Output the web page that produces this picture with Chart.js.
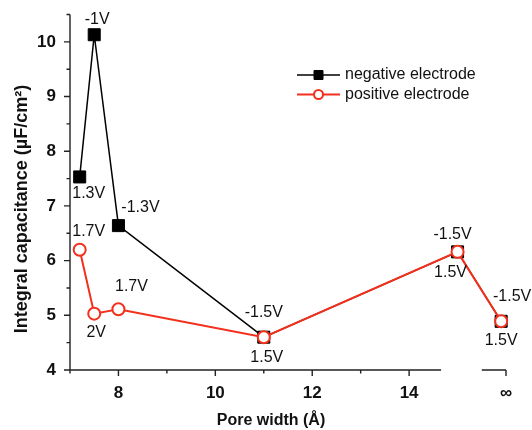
<!DOCTYPE html>
<html>
<head>
<meta charset="utf-8">
<script src="https://cdn.jsdelivr.net/npm/chart.js@4/dist/chart.umd.min.js"></script>
<style>
html,body{margin:0;padding:0;background:#fff;}
#wrap{width:532px;height:430px;}
</style>
</head>
<body>
<div id="wrap"><canvas id="c" width="532" height="430"></canvas></div>
<script>
// ---- data ----
const poreWidth = [7.2, 7.5, 8.0, 11.0, 15.0, 15.9];   // last value = "∞" position on broken axis
const negativeCap = [7.53, 10.13, 6.64, 4.60, 6.16, 4.89];
const positiveCap = [6.20, 5.03, 5.11, 4.60, 6.16, 4.89];
const negativeLabels = ['1.3V', '-1V', '-1.3V', '-1.5V', '-1.5V', '-1.5V'];
const positiveLabels = ['1.7V', '2V', '1.7V', '1.5V', '1.5V', '1.5V'];
const xTickValues = [8, 10, 12, 14, 16];
const xTickLabels = ['8', '10', '12', '14', '\u221E'];
const xMinorTicks = [7, 9, 11, 13];
const yTickValues = [4, 5, 6, 7, 8, 9, 10];
const yMinorTicks = [4.5, 5.5, 6.5, 7.5, 8.5, 9.5, 10.5];
const xBreak = [14.66, 15.5];

// label offsets (px) relative to point centre
const negOffsets = [[9,17],[3,-15],[22,-18],[0,-25],[-5,-17],[11,-25]];
const posOffsets = [[9,-18],[2,19],[13,-23],[3,20],[-7,21],[0,19]];

const FONT = "'Liberation Sans', Arial, sans-serif";
const RED = '#f2301c';

const pts = (ys) => poreWidth.map((x, i) => ({x, y: ys[i]}));

const axesPlugin = {
  id: 'axesDraw',
  beforeDatasetsDraw(chart) {
    const ctx = chart.ctx, xs = chart.scales.x, ys = chart.scales.y, a = chart.chartArea;
    ctx.save();
    ctx.strokeStyle = '#222';
    ctx.lineWidth = 1.4;
    ctx.beginPath();
    ctx.moveTo(a.left, a.top); ctx.lineTo(a.left, a.bottom);
    yTickValues.forEach(v => { const p = ys.getPixelForValue(v); ctx.moveTo(a.left, p); ctx.lineTo(a.left - 6, p); });
    yMinorTicks.forEach(v => { const p = ys.getPixelForValue(v); ctx.moveTo(a.left, p); ctx.lineTo(a.left - 3.5, p); });
    ctx.moveTo(a.left - 0.7, a.bottom); ctx.lineTo(xs.getPixelForValue(xBreak[0]), a.bottom);
    ctx.moveTo(xs.getPixelForValue(xBreak[1]), a.bottom); ctx.lineTo(a.right, a.bottom);
    xTickValues.forEach(v => { const p = xs.getPixelForValue(v); ctx.moveTo(p, a.bottom); ctx.lineTo(p, a.bottom + 6); });
    xMinorTicks.forEach(v => { const p = xs.getPixelForValue(v); ctx.moveTo(p, a.bottom); ctx.lineTo(p, a.bottom + 3.5); });
    ctx.stroke();
    ctx.fillStyle = '#111';
    ctx.font = 'bold 16px ' + FONT;
    ctx.textAlign = 'center'; ctx.textBaseline = 'middle';
    ctx.fillText('Pore width (\u00C5)', 271, 421);
    ctx.save();
    ctx.translate(22, 209);
    ctx.rotate(-Math.PI / 2);
    ctx.font = 'bold 18px ' + FONT;
    ctx.fillText('Integral capacitance (\u00B5F/cm\u00B2)', 0, 0);
    ctx.restore();
    ctx.restore();
  },
  afterDatasetsDraw(chart) {
    const ctx = chart.ctx;
    ctx.save();
    ctx.fillStyle = '#111';
    ctx.font = '16px ' + FONT;
    ctx.textAlign = 'center'; ctx.textBaseline = 'middle';
    const sets = [[chart.getDatasetMeta(1), negativeLabels, negOffsets], [chart.getDatasetMeta(0), positiveLabels, posOffsets]];
    sets.forEach(([meta, labels, offs]) => {
      meta.data.forEach((el, i) => {
        ctx.fillText(labels[i], el.x + offs[i][0], el.y + offs[i][1]);
      });
    });
    const items = [chart.data.datasets[1], chart.data.datasets[0]];
    items.forEach((ds, k) => {
      const y = 75 + k * 19.5;
      ctx.strokeStyle = ds.borderColor; ctx.lineWidth = ds.borderWidth;
      ctx.beginPath(); ctx.moveTo(297, y); ctx.lineTo(340, y); ctx.stroke();
      ctx.fillStyle = ds.pointBackgroundColor; ctx.strokeStyle = ds.pointBorderColor; ctx.lineWidth = ds.pointBorderWidth;
      ctx.beginPath();
      if (ds.pointStyle === 'rect') { ctx.rect(318.5 - 4.5, y - 4.5, 9, 9); } else { ctx.arc(318.5, y, 4.5, 0, Math.PI * 2); }
      ctx.fill(); ctx.stroke();
      ctx.fillStyle = '#111'; ctx.textAlign = 'left';
      ctx.fillText(ds.label, 345, y);
    });
    ctx.restore();
  }
};

const noPad = (s) => { s.paddingTop = 0; s.paddingBottom = 0; s.paddingLeft = 0; s.paddingRight = 0; };

new Chart(document.getElementById('c'), {
  type: 'scatter',
  data: {
    datasets: [
      {
        label: 'positive electrode', order: 0, clip: false,
        data: pts(positiveCap), showLine: true,
        borderColor: RED, borderWidth: 2,
        pointStyle: 'circle', pointRadius: 6, pointBorderWidth: 2,
        pointBackgroundColor: '#fff', pointBorderColor: RED
      },
      {
        label: 'negative electrode', order: 1, clip: false,
        data: pts(negativeCap), showLine: true,
        borderColor: '#000', borderWidth: 1.5,
        pointStyle: 'rect', pointRadius: 8.5, pointBorderWidth: 1,
        pointBackgroundColor: '#000', pointBorderColor: '#000'
      }
    ]
  },
  options: {
    responsive: false, animation: false,
    layout: { padding: { top: 14.5, right: 26, bottom: 0, left: 0 } },
    plugins: { legend: { display: false }, tooltip: { enabled: false } },
    scales: {
      x: {
        type: 'linear', min: 7, max: 16,
        grid: { display: false, drawTicks: false }, border: { display: false },
        afterBuildTicks: (s) => { s.ticks = xTickValues.map(v => ({value: v})); },
        afterFit: (s) => { s.height = 60; noPad(s); },
        ticks: {
          padding: 13, color: '#111',
          font: { family: FONT, size: 17, weight: 'bold' },
          callback: (v) => xTickLabels[xTickValues.indexOf(v)]
        }
      },
      y: {
        type: 'linear', min: 4, max: 10.5,
        grid: { display: false, drawTicks: false }, border: { display: false },
        afterBuildTicks: (s) => { s.ticks = yTickValues.map(v => ({value: v})); },
        afterFit: (s) => { s.width = 70; noPad(s); },
        ticks: {
          padding: 14, color: '#111',
          font: { family: FONT, size: 17, weight: 'bold' },
          callback: (v) => String(v)
        }
      }
    }
  },
  plugins: [axesPlugin]
});
</script>
</body>
</html>
